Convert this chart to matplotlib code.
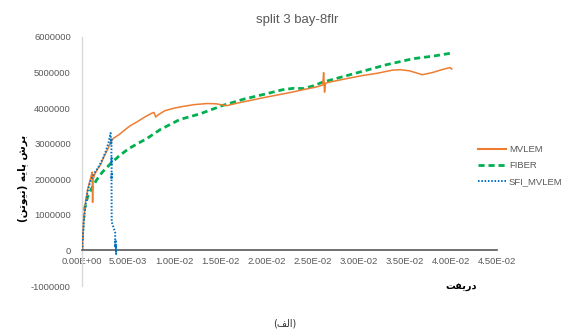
import matplotlib
matplotlib.use("Agg")
import matplotlib.pyplot as plt
from matplotlib.lines import Line2D

# Drift / base shear (N) pushover curves
mvlem_drift = [0, 0.0002, 0.0004, 0.0006, 0.0008, 0.0010, 0.0011, 0.00115, 0.0012, 0.0014,
               0.0017, 0.0020, 0.0024, 0.0028, 0.0031, 0.0034, 0.0040, 0.0046, 0.0052, 0.0060,
               0.0068, 0.0075, 0.0078, 0.0080, 0.0083, 0.0090, 0.0100, 0.0110, 0.0122, 0.0136,
               0.0146, 0.0150, 0.0157, 0.0170, 0.0185, 0.0196, 0.0210, 0.0226, 0.0240, 0.0255,
               0.0261, 0.0262, 0.0263, 0.0264, 0.0270, 0.0285, 0.0305, 0.0320, 0.0337, 0.0345,
               0.0355, 0.0369, 0.0380, 0.0390, 0.0399, 0.0401]
mvlem_shear = [0, 0.9e6, 1.4e6, 1.7e6, 1.9e6, 2.1e6, 2.2e6, 1.35e6, 2.0e6, 2.15e6,
               2.3e6, 2.4e6, 2.65e6, 2.85e6, 3.05e6, 3.15e6, 3.25e6, 3.38e6, 3.5e6, 3.62e6,
               3.75e6, 3.85e6, 3.88e6, 3.75e6, 3.82e6, 3.93e6, 4.0e6, 4.05e6, 4.1e6, 4.13e6,
               4.12e6, 4.1e6, 4.07e6, 4.15e6, 4.23e6, 4.29e6, 4.36e6, 4.44e6, 4.52e6, 4.6e6,
               4.65e6, 5.0e6, 4.45e6, 4.7e6, 4.74e6, 4.82e6, 4.92e6, 4.98e6, 5.07e6, 5.08e6,
               5.05e6, 4.94e6, 5.0e6, 5.08e6, 5.14e6, 5.1e6]

fiber_drift = [0, 0.0001, 0.0003, 0.0006, 0.0010, 0.0016, 0.0022, 0.0031, 0.0040, 0.0050,
               0.0060, 0.0070, 0.0085, 0.0106, 0.0128, 0.0153, 0.0175, 0.0196, 0.0218, 0.0230,
               0.0240, 0.0250, 0.0261, 0.0285, 0.0305, 0.0330, 0.0359, 0.0380, 0.0399]
fiber_shear = [0, 0.7e6, 1.2e6, 1.5e6, 1.72e6, 1.99e6, 2.2e6, 2.44e6, 2.65e6, 2.85e6,
               3.0e6, 3.14e6, 3.4e6, 3.68e6, 3.84e6, 4.08e6, 4.25e6, 4.38e6, 4.52e6, 4.56e6,
               4.55e6, 4.62e6, 4.73e6, 4.9e6, 5.04e6, 5.22e6, 5.39e6, 5.46e6, 5.54e6]

sfi_drift = [0, 0.0002, 0.0004, 0.0006, 0.0008, 0.0010, 0.0012, 0.0014, 0.0017, 0.0020,
             0.0023, 0.0026, 0.0029, 0.0031, 0.00315, 0.0032, 0.00318, 0.00322, 0.0032, 0.00325,
             0.0032, 0.00322, 0.0036, 0.0036, 0.00365, 0.0037, 0.00365, 0.0037, 0.00375]
sfi_shear = [0, 0.85e6, 1.3e6, 1.65e6, 1.85e6, 2.0e6, 2.1e6, 2.2e6, 2.3e6, 2.45e6,
             2.6e6, 2.8e6, 3.05e6, 3.3e6, 3.0e6, 3.15e6, 2.4e6, 2.6e6, 2.0e6, 2.2e6,
             2.1e6, 0.8e6, 0.5e6, 0.1e6, 0.3e6, -0.1e6, 0.15e6, 0.0, 0.05e6]

series_names = ["MVLEM", "FIBER", "SFI_MVLEM"]
x_ticks = [0, 0.005, 0.010, 0.015, 0.020, 0.025, 0.030, 0.035, 0.040, 0.045]
x_tick_labels = ["0.00E+00", "5.00E-03", "1.00E-02", "1.50E-02", "2.00E-02",
                 "2.50E-02", "3.00E-02", "3.50E-02", "4.00E-02", "4.50E-02"]
y_ticks = [-1000000, 0, 1000000, 2000000, 3000000, 4000000, 5000000, 6000000]

title_text = "split 3 bay-8flr"
# Persian labels written in shaped presentation forms, visual order
ylabel_text = "(\uFEE6\uFE97\uFEEE\uFBFF\uFEE7) \uFEEA\uFBFE\uFE8E\uFB58 \uFEB5\uFEAE\uFE91"
xlabel_text = "\uFE96\uFED4\uFBFE\uFEAD\uFEA9"
caption_text = "(\uFED2\uFEDF\uFE8D)"

c_orange = "#ED7D31"
c_green = "#00B050"
c_blue = "#0070C0"
c_text = "#595959"

plt.rcParams['font.family'] = ['Liberation Sans', 'DejaVu Sans']

fig = plt.figure(figsize=(5.62, 3.34), dpi=100)
ax = fig.add_axes([82 / 562, 1 - 286 / 334, (497 - 82) / 562, (286 - 37) / 334])

ax.plot(mvlem_drift, mvlem_shear, color=c_orange, lw=1.1, zorder=3)
ax.plot(fiber_drift, fiber_shear, color=c_green, lw=2.0, ls=(0, (2.2, 1.4)), zorder=2)
ax.plot(sfi_drift, sfi_shear, color=c_blue, lw=1.4, ls=(0, (0.8, 0.9)), zorder=4)

ax.set_xlim(0, 0.045)
ax.set_ylim(-1000000, 6000000)
ax.set_xticks(x_ticks)
ax.set_xticklabels(x_tick_labels)
ax.set_yticks(y_ticks)
ax.set_yticklabels([str(v) for v in y_ticks])

for s in ["top", "right"]:
    ax.spines[s].set_visible(False)
ax.spines["left"].set_color("#D9D9D9")
ax.spines["left"].set_linewidth(1.0)
ax.spines["bottom"].set_position(("data", 0))
ax.spines["bottom"].set_color("#595959")
ax.spines["bottom"].set_linewidth(1.2)
ax.tick_params(length=0, labelsize=6.8, labelcolor=c_text)
ax.tick_params(axis="y", pad=8)
ax.tick_params(axis="x", pad=5)

fig.text(297 / 562, 1 - 20 / 334, title_text, ha="center", va="center",
         fontsize=9.5, color=c_text)
fig.text(23 / 562, 1 - 178 / 334, ylabel_text, rotation=90, ha="center", va="center",
         fontsize=7.5, fontweight="bold", color="black", family=["DejaVu Sans"])
fig.text(461 / 562, 1 - 287 / 334, xlabel_text, ha="center", va="center",
         fontsize=7, fontweight="bold", color="black", family=["DejaVu Sans"])
fig.text(285 / 562, 1 - 324 / 334, caption_text, ha="center", va="center",
         fontsize=7, color="#333333", family=["DejaVu Sans"])

handles = [Line2D([], [], color=c_orange, lw=1.5),
           Line2D([], [], color=c_green, lw=2.0, ls=(0, (2.2, 1.4))),
           Line2D([], [], color=c_blue, lw=1.4, ls=(0, (0.8, 0.9)))]
fig.legend(handles, series_names, loc="center left", bbox_to_anchor=(474 / 562, 1 - 166 / 334),
           frameon=False, fontsize=6.8, labelcolor=c_text, handlelength=3.0,
           handletextpad=0.3, labelspacing=0.75, borderaxespad=0)

fig.savefig("out.png", dpi=100)
